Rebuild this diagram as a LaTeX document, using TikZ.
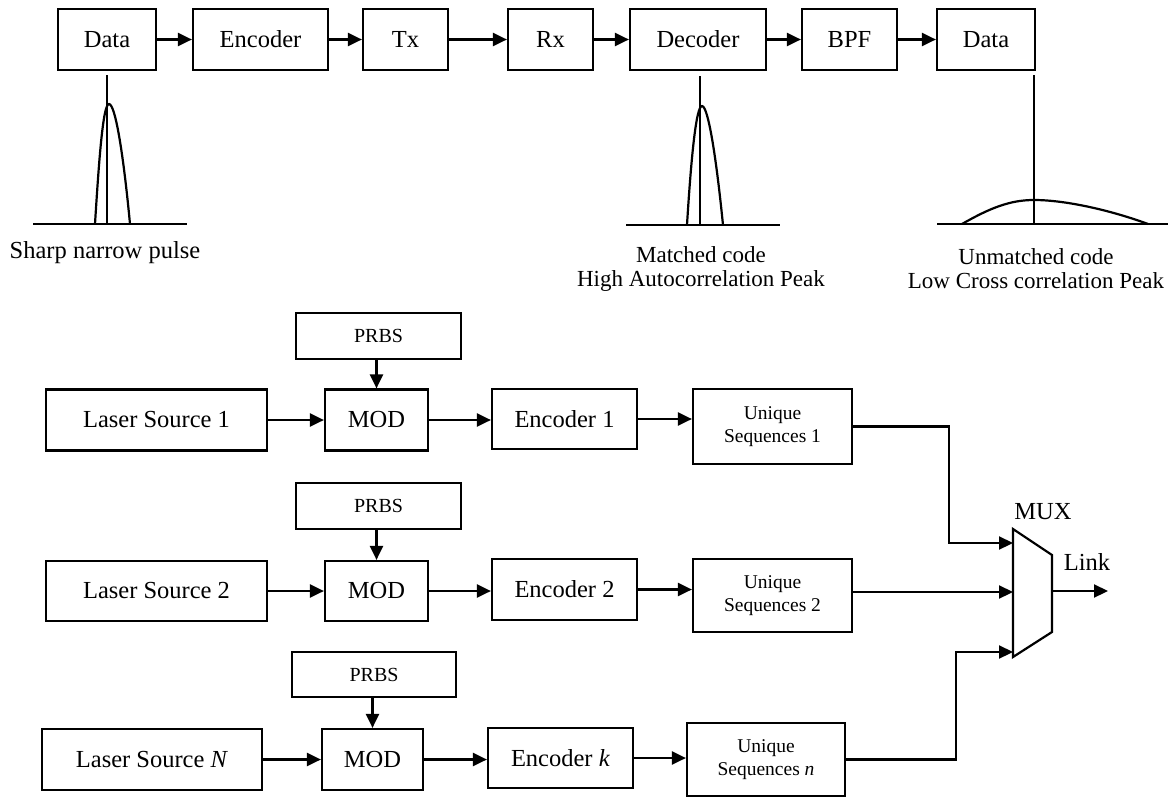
\documentclass[tikz,border=0pt]{standalone}
\usepackage{fontspec}
\setmainfont{Liberation Serif}
\usetikzlibrary{arrows.meta}
\begin{document}
\begin{tikzpicture}[x=1pt,y=-1pt,
  box/.style={draw, line width=2.2pt, inner sep=0pt, font=\fontsize{24.5}{28}\selectfont},
  smallbox/.style={box, font=\fontsize{20}{23}\selectfont},
  seqbox/.style={box, align=center, font=\fontsize{19.5}{23}\selectfont},
  arr/.style={line width=2.2pt, -{Triangle[length=14pt,width=13pt]}},
  wire/.style={line width=2.2pt},
  lbl/.style={inner sep=0pt, align=center, font=\fontsize{24.5}{28}\selectfont},
  caption/.style={inner sep=0pt, align=center, font=\fontsize{23}{24}\selectfont}]
\path[use as bounding box, fill=white] (0,0) rectangle (1168,798);

% ---------------- upper chain: encoder / decoder link ----------------
\node[box, minimum width=98pt,  minimum height=61pt] (d1)  at (107,39.5)   {Data};
\node[box, minimum width=135pt, minimum height=61pt] (enc) at (260.5,39.5) {Encoder};
\node[box, minimum width=85pt,  minimum height=61pt] (tx)  at (405.5,39.5) {Tx};
\node[box, minimum width=85pt,  minimum height=61pt] (rx)  at (550.5,39.5) {Rx};
\node[box, minimum width=136pt, minimum height=61pt] (dec) at (698,39.5)   {Decoder};
\node[box, minimum width=95pt,  minimum height=61pt] (bpf) at (849.5,39.5) {BPF};
\node[box, minimum width=98pt,  minimum height=61pt] (d2)  at (986,39.5)   {Data};

\draw[arr] (d1)  -- (enc);
\draw[arr] (enc) -- (tx);
\draw[arr] (tx)  -- (rx);
\draw[arr] (rx)  -- (dec);
\draw[arr] (dec) -- (bpf);
\draw[arr] (bpf) -- (d2);

% correlation sketches
\draw[wire] (33,224) -- (187,224);
\draw[wire] (107,75) -- (107,224);
\draw[wire] (95,224) .. controls (99,160) and (103,104) .. (109,104)
                     .. controls (115,104) and (123,150) .. (130,224);
\node[caption, font=\fontsize{24.5}{28}\selectfont] (cap1) at (105,253) {Sharp narrow pulse};

\draw[wire] (626,225) -- (780,225);
\draw[wire] (700,76) -- (700,225);
\draw[wire] (687,225) .. controls (691,160) and (696,106) .. (702,106)
                      .. controls (708,106) and (716,155) .. (723,225);
\node[caption] (cap2) at (701,269) {Matched code\\High Autocorrelation Peak};

\draw[wire] (937,224) -- (1168,224);
\draw[wire] (1034,75) -- (1034,224);
\draw[wire] (962,224) .. controls (990,208) and (1010,200) .. (1034,200)
                      .. controls (1065,200) and (1110,210) .. (1148,224);
\node[caption] (cap3) at (1036,269) {Unmatched code\\Low Cross correlation Peak};

% ---------------- lower part: transmitters and multiplexer ----------------
% channel 1
\node[smallbox, minimum width=165pt, minimum height=46pt] (prbs1) at (378.5,336) {PRBS};
\node[box, minimum width=221pt, minimum height=61pt] (ls1)  at (156.5,420) {Laser Source 1};
\node[box, minimum width=103pt, minimum height=61pt] (mod1) at (376.5,420) {MOD};
\node[box, minimum width=145pt, minimum height=60pt] (enc1) at (564.5,419) {Encoder 1};
\node[seqbox, minimum width=159pt, minimum height=75pt] (us1) at (772.5,426.5) {Unique\\Sequences 1};

% channel 2
\node[smallbox, minimum width=165pt, minimum height=46pt] (prbs2) at (378.5,506) {PRBS};
\node[box, minimum width=221pt, minimum height=60pt] (ls2)  at (156.5,591) {Laser Source 2};
\node[box, minimum width=103pt, minimum height=60pt] (mod2) at (376.5,591) {MOD};
\node[box, minimum width=145pt, minimum height=61pt] (enc2) at (564.5,589.5) {Encoder 2};
\node[seqbox, minimum width=159pt, minimum height=73pt] (us2) at (772.5,595.5) {Unique\\Sequences 2};

% channel N
\node[smallbox, minimum width=164pt, minimum height=45pt] (prbs3) at (374,674.5) {PRBS};
\node[box, minimum width=220pt, minimum height=61pt] (ls3)  at (152,759.5) {Laser Source \textit{N}};
\node[box, minimum width=101pt, minimum height=61pt] (mod3) at (372.5,759.5) {MOD};
\node[box, minimum width=145pt, minimum height=60pt] (enc3) at (560.5,758) {Encoder \textit{k}};
\node[seqbox, minimum width=158pt, minimum height=73pt] (us3) at (766,759.5) {Unique\\Sequences \textit{n}};

\foreach \i in {1,2,3}{
  \draw[arr] (mod\i.north |- prbs\i.south) -- (mod\i.north);
  \draw[arr] (ls\i) -- (mod\i);
  \draw[arr] (mod\i.east) -- (mod\i.east -| enc\i.west);
  \draw[arr] (enc\i.east) -- (enc\i.east -| us\i.west);
}

% multiplexer
\coordinate (mtl) at (1013,529);
\coordinate (mtr) at (1052,555);
\coordinate (mbr) at (1052,632);
\coordinate (mbl) at (1013,657);
\draw[wire, line join=miter] (mtl) -- (mtr) -- (mbr) -- (mbl) -- cycle;
\coordinate (m1) at (1013,543);
\coordinate (m2) at (1013,592);
\coordinate (m3) at (1013,652);
\coordinate (mout) at (1052,591);
\coordinate (link) at (1108,591);
\coordinate (bend1) at (949,0);
\coordinate (bend3) at (956,0);
\node[lbl] (muxlbl) at (1043,512) {MUX};
\node[lbl] (linklbl) at (1087,562) {Link};

\draw[arr] (us1.east) -- (us1.east -| bend1) |- (m1);
\draw[arr] (us2.east |- m2) -- (m2);
\draw[arr] (us3.east) -- (us3.east -| bend3) |- (m3);
\draw[arr] (mout) -- (link);
\end{tikzpicture}
\end{document}
